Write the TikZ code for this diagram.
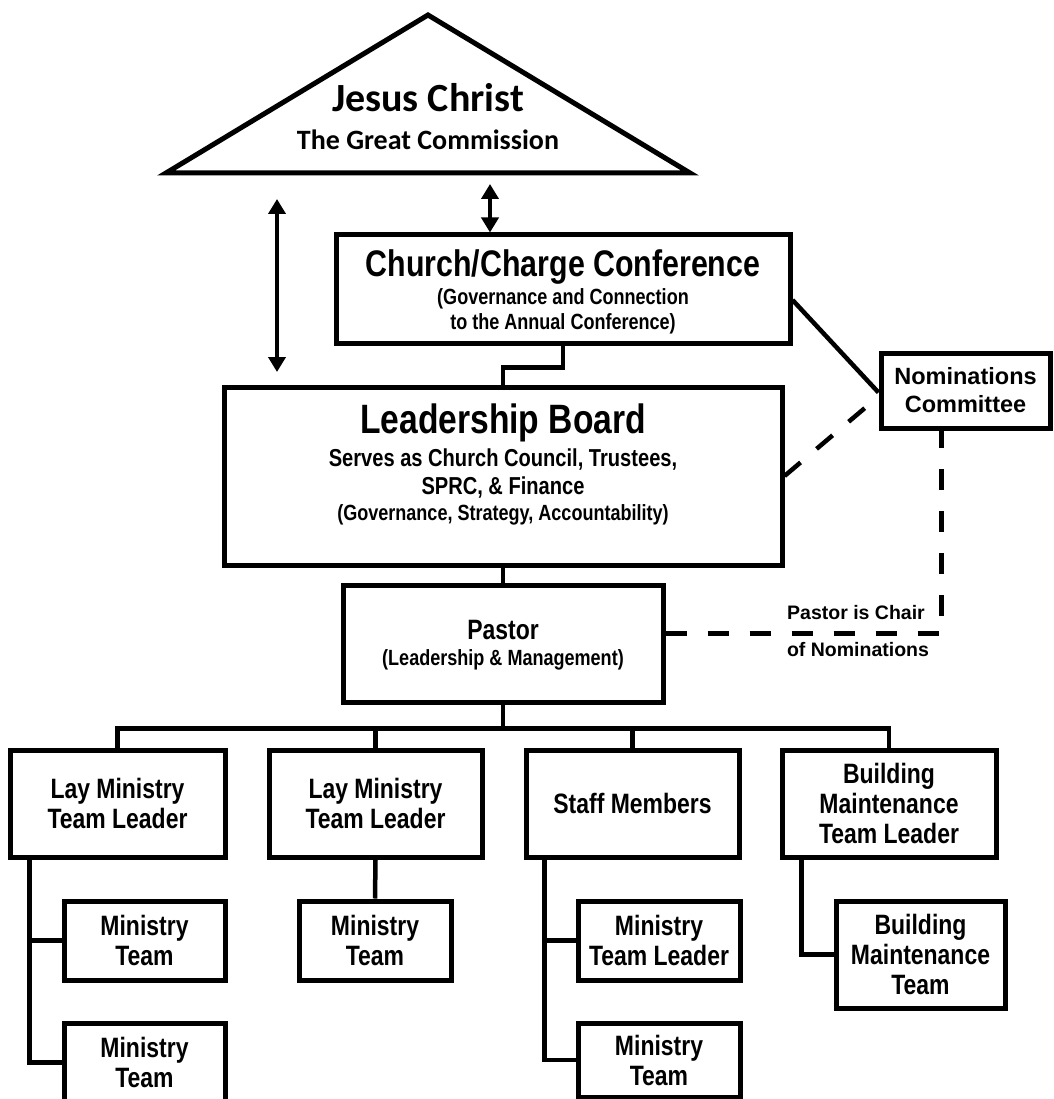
\documentclass[tikz,border=0pt]{standalone}
\usepackage{fontspec}
\setmainfont{Liberation Sans}
\newfontfamily\narrowsans[FakeStretch=0.82]{Liberation Sans}
\newfontfamily\calibsans{Carlito}
\usetikzlibrary{arrows.meta, backgrounds}

\begin{document}
\begin{tikzpicture}[x=1pt, y=-1pt,
    background rectangle/.style={fill=white},
    inner frame sep=0pt,
    show background rectangle,
    box/.style={draw, line width=5pt, align=center, inner sep=0pt,
        font=\narrowsans\bfseries\fontsize{28}{30}\selectfont},
    txt/.style={inner sep=0pt, font=\narrowsans\bfseries\fontsize{#1}{#1}\selectfont},
    link/.style={line width=4.5pt},
    dashlink/.style={line width=4.5pt, dash pattern=on 21pt off 21pt},
    twoway/.style={line width=4.5pt,
        {Triangle[length=15pt,width=17pt]}-{Triangle[length=15pt,width=17pt]}}]
    \useasboundingbox (0,0) rectangle (1053,1099);

    % The triangle at the top
    \coordinate (apex) at (428,15);
    \coordinate (baseL) at (166,173);
    \coordinate (baseR) at (690,173);
    \draw[line width=5pt, line join=miter] (baseL) -- (apex) -- (baseR) -- cycle;
    \node[inner sep=0pt, font=\calibsans\bfseries\fontsize{40}{40}\selectfont] (jesus) at (428,98) {Jesus Christ};
    \node[inner sep=0pt, font=\calibsans\bfseries\fontsize{28}{28}\selectfont] (commission) at (428,140) {The Great Commission};

    % Conference, board and pastor
    \node[box, minimum width=454pt, minimum height=108pt] (church) at (563,289) {};
    \node[txt=37] (churchT) at (563,267) {Church/Charge Conference};
    \node[txt=22, align=center, font=\narrowsans\bfseries\fontsize{22}{25}\selectfont] (churchS) at (563,311) {(Governance and Connection\\to the Annual Conference)};

    \node[box, minimum width=558pt, minimum height=178pt] (board) at (503,476) {};
    \node[txt=41] (boardT) at (503,423) {Leadership Board};
    \node[txt=24, align=center, font=\narrowsans\bfseries\fontsize{24.5}{28}\selectfont] (boardS) at (503,474) {Serves as Church Council, Trustees,\\SPRC, \& Finance};
    \node[txt=22] (boardG) at (503,515) {(Governance, Strategy, Accountability)};

    \node[box, minimum width=320pt, minimum height=117pt] (pastor) at (503,643.5) {};
    \node[txt=28] (pastorT) at (503,630) {Pastor};
    \node[txt=22] (pastorS) at (503,660) {(Leadership \& Management)};

    \node[box, minimum width=169pt, minimum height=75pt,
        font=\bfseries\fontsize{23.5}{28}\selectfont] (nom) at (965.5,390.5) {Nominations\\Committee};

    \node[inner sep=0pt, font=\bfseries\fontsize{19.5}{20}\selectfont] (chairA) at (856,613) {Pastor is Chair};
    \node[inner sep=0pt, font=\bfseries\fontsize{19.5}{20}\selectfont] (chairB) at (858,650) {of Nominations};

    % Arrows to the triangle
    \coordinate (smallA) at (490,184);
    \draw[twoway] (smallA) -- (smallA |- church.north);
    \coordinate (longA) at (277,199);
    \coordinate (longB) at (277,372);
    \draw[twoway] (longA) -- (longB);

    % Links between the upper boxes
    \draw[link] (church.south) -- ++(0,22) -| (board.north);
    \draw[link] (board.south) -- (pastor.north);
    \draw[link] ([yshift=-11pt]church.east) -- ([yshift=-2pt]nom.west);
    \draw[dashlink] (board.east) -- ([yshift=-6pt]nom.west);
    \draw[dashlink] ([yshift=10pt]pastor.east) -| ([xshift=-24pt]nom.south);

    % Second row
    \node[box, minimum width=215pt, minimum height=107pt] (lay1) at (117.5,803.5) {Lay Ministry\\Team Leader};
    \node[box, minimum width=213pt, minimum height=107pt] (lay2) at (375.5,803.5) {Lay Ministry\\Team Leader};
    \node[box, minimum width=213pt, minimum height=107pt] (staff) at (632.5,803.5) {Staff Members};
    \node[box, minimum width=214pt, minimum height=107pt] (bldg) at (889,803.5) {Building\\Maintenance\\Team Leader};

    \draw[link] (pastor.south) -- ++(0,24) coordinate (bus);
    \foreach \n in {lay1, lay2, staff, bldg}
        \draw[link] (bus) -| (\n.north);

    % Teams
    \node[box, minimum width=161pt, minimum height=79pt] (team1a) at (144.5,940.5) {Ministry\\Team};
    \node[box, minimum width=161pt, minimum height=79pt] (team1b) at (144.5,1062.5) {Ministry\\Team};
    \node[box, minimum width=152pt, minimum height=79pt] (team2) at (375,940.5) {Ministry\\Team};
    \node[box, minimum width=162pt, minimum height=79pt] (lead3) at (659,940.5) {Ministry\\Team Leader};
    \node[box, minimum width=162pt, minimum height=74pt] (team3) at (659,1060) {Ministry\\Team};
    \node[box, minimum width=169pt, minimum height=107pt] (bmteam) at (920.5,954.5) {Building\\Maintenance\\Team};

    \draw[link] ([xshift=22pt]lay1.south west) |- (team1a.west);
    \draw[link] ([xshift=22pt]lay1.south west) |- (team1b.west);
    \draw[link] (lay2.south) -- (team2.north);
    \draw[link] ([xshift=21pt]staff.south west) |- (lead3.west);
    \draw[link] ([xshift=21pt]staff.south west) |- (team3.west);
    \draw[link] ([xshift=22pt]bldg.south west) |- (bmteam.west);
\end{tikzpicture}
\end{document}
